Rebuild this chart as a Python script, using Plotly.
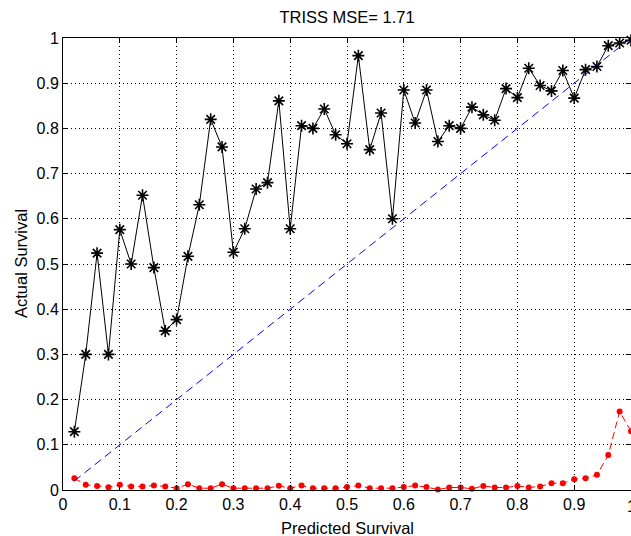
import plotly.graph_objects as go

# ---- data ----
pred_x = [0.02, 0.04, 0.06, 0.08, 0.10, 0.12, 0.14, 0.16, 0.18, 0.20,
          0.22, 0.24, 0.26, 0.28, 0.30, 0.32, 0.34, 0.36, 0.38, 0.40,
          0.42, 0.44, 0.46, 0.48, 0.50, 0.52, 0.54, 0.56, 0.58, 0.60,
          0.62, 0.64, 0.66, 0.68, 0.70, 0.72, 0.74, 0.76, 0.78, 0.80,
          0.82, 0.84, 0.86, 0.88, 0.90, 0.92, 0.94, 0.96, 0.98, 1.00]

actual_y = [0.129, 0.300, 0.524, 0.300, 0.576, 0.500, 0.652, 0.492, 0.352, 0.377,
            0.517, 0.631, 0.820, 0.759, 0.526, 0.578, 0.666, 0.680, 0.861, 0.578,
            0.806, 0.800, 0.843, 0.786, 0.766, 0.961, 0.753, 0.834, 0.600, 0.885,
            0.812, 0.885, 0.771, 0.806, 0.800, 0.847, 0.830, 0.818, 0.888, 0.868,
            0.933, 0.895, 0.883, 0.928, 0.867, 0.930, 0.937, 0.983, 0.989, 0.995]

error_y = [0.026, 0.0115, 0.009, 0.006, 0.0115, 0.008, 0.008, 0.010, 0.008, 0.004,
           0.0128, 0.004, 0.004, 0.0128, 0.004, 0.004, 0.004, 0.004, 0.0093, 0.004,
           0.0098, 0.004, 0.004, 0.004, 0.0064, 0.0098, 0.004, 0.004, 0.004, 0.0064,
           0.0098, 0.0064, 0.001, 0.0056, 0.0056, 0.0026, 0.009, 0.0056, 0.0056, 0.009,
           0.0056, 0.0078, 0.015, 0.015, 0.024, 0.026, 0.0335, 0.0775, 0.1737, 0.13]

diag_x = [0.02, 1.0]
diag_y = [0.02, 1.0]

tick_vals = [0.0, 0.1, 0.2, 0.3, 0.4, 0.5, 0.6, 0.7, 0.8, 0.9, 1.0]
tick_text = ["0", "0.1", "0.2", "0.3", "0.4", "0.5", "0.6", "0.7", "0.8", "0.9", "1"]

title_text = "TRISS MSE= 1.71"
x_label = "Predicted Survival"
y_label = "Actual Survival"

FONT = "Liberation Sans, Arial, sans-serif"

fig = go.Figure()
fig.add_trace(go.Scatter(
    x=pred_x, y=actual_y, mode="lines+markers",
    line=dict(color="black", width=1),
    marker=dict(symbol="asterisk-open", size=10, color="black",
                line=dict(color="black", width=1.6)),
    cliponaxis=False, showlegend=False))
fig.add_trace(go.Scatter(
    x=pred_x, y=error_y, mode="lines+markers",
    line=dict(color="red", width=1, dash="7px,4px"),
    marker=dict(symbol="circle", size=6, color="red"),
    cliponaxis=False, showlegend=False))
fig.add_trace(go.Scatter(
    x=diag_x, y=diag_y, mode="lines",
    line=dict(color="blue", width=1, dash="8px,5px"),
    showlegend=False))

axis_common = dict(
    showline=True, linecolor="black", linewidth=1, mirror="ticks",
    ticks="inside", ticklen=5, tickcolor="black", tickwidth=1,
    showgrid=True, gridcolor="black", gridwidth=1, griddash="1px,3px",
    zeroline=False, automargin=False,
    tickfont=dict(family=FONT, size=16, color="black"),
    tickvals=tick_vals, ticktext=tick_text,
)

fig.update_xaxes(range=[0, 1], **axis_common)
fig.update_yaxes(range=[0, 1], **axis_common)

fig.update_layout(
    width=631, height=536,
    margin=dict(l=63, r=0, t=38, b=46),
    paper_bgcolor="white", plot_bgcolor="white",
    title=dict(text=title_text, x=0.55, xref="container", xanchor="center",
               y=1 - 17 / 536, yref="container", yanchor="middle",
               font=dict(family=FONT, size=16.5, color="black")),
    annotations=[
        dict(text=x_label, xref="paper", yref="paper", x=0.5, y=0,
             xanchor="center", yanchor="middle", yshift=-38, showarrow=False,
             font=dict(family=FONT, size=16.5, color="black")),
        dict(text=y_label, xref="paper", yref="paper", x=0, y=0.5,
             xanchor="center", yanchor="middle", xshift=-42, textangle=-90,
             showarrow=False,
             font=dict(family=FONT, size=16.5, color="black")),
        dict(text=tick_text[-1], xref="paper", yref="paper", x=1.0, y=0,
             xanchor="center", yanchor="middle", yshift=-16, showarrow=False,
             font=dict(family=FONT, size=16, color="black")),
    ],
)

fig.write_html("out.html")
